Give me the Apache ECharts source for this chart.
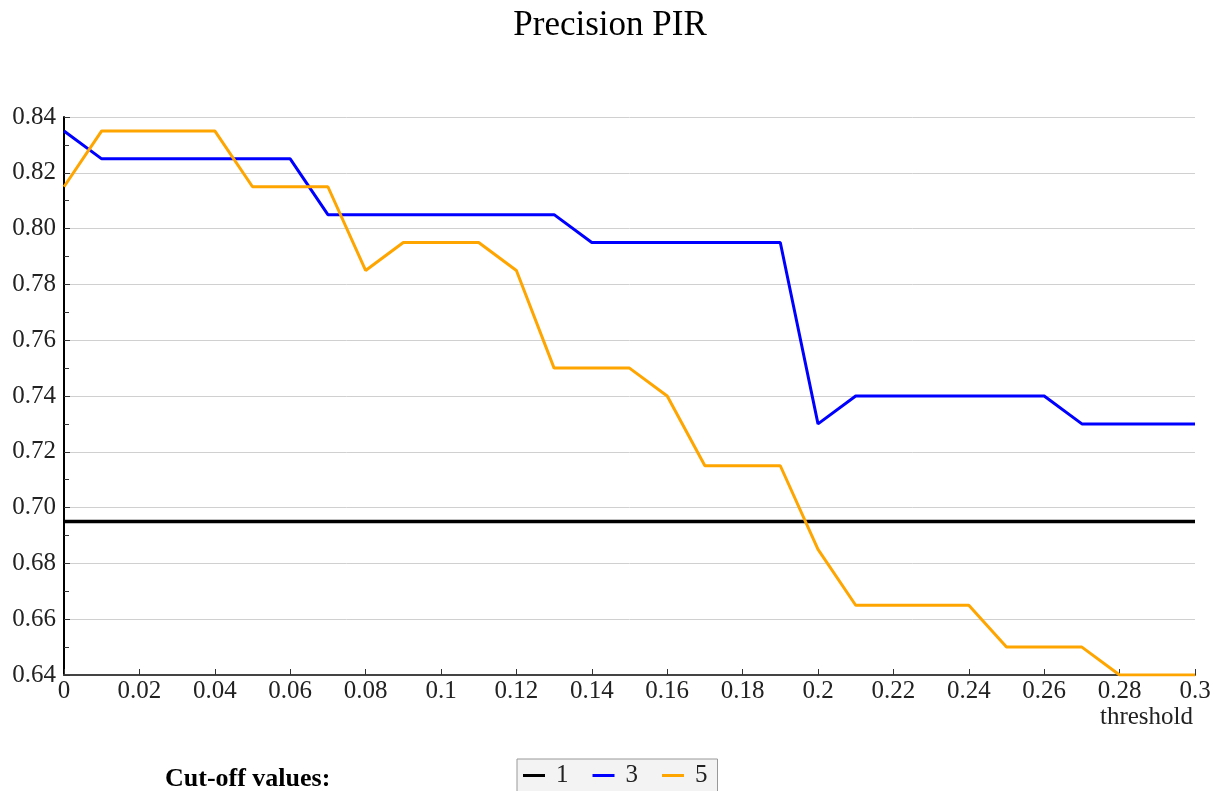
<!DOCTYPE html>
<html lang="en">
<head>
  <meta charset="UTF-8">
  <title>Precision PIR</title>
  <script src="https://cdn.jsdelivr.net/npm/echarts@6/dist/echarts.min.js"></script>
  <style>
    body { margin: 0; background: #fff; }
  </style>
</head>
<body>
  <div id="main" style="width: 1220px; height: 791px;"></div>

  <script>
    // threshold values (x)
    const thresholds = [0, 0.01, 0.02, 0.03, 0.04, 0.05, 0.06, 0.07, 0.08, 0.09, 0.1,
      0.11, 0.12, 0.13, 0.14, 0.15, 0.16, 0.17, 0.18, 0.19, 0.2,
      0.21, 0.22, 0.23, 0.24, 0.25, 0.26, 0.27, 0.28, 0.29, 0.3];

    // precision per cut-off value
    const cut1 = [0.695, 0.695, 0.695, 0.695, 0.695, 0.695, 0.695, 0.695, 0.695, 0.695, 0.695,
      0.695, 0.695, 0.695, 0.695, 0.695, 0.695, 0.695, 0.695, 0.695, 0.695,
      0.695, 0.695, 0.695, 0.695, 0.695, 0.695, 0.695, 0.695, 0.695, 0.695];
    const cut3 = [0.835, 0.825, 0.825, 0.825, 0.825, 0.825, 0.825, 0.805, 0.805, 0.805, 0.805,
      0.805, 0.805, 0.805, 0.795, 0.795, 0.795, 0.795, 0.795, 0.795, 0.73,
      0.74, 0.74, 0.74, 0.74, 0.74, 0.74, 0.73, 0.73, 0.73, 0.73];
    const cut5 = [0.815, 0.835, 0.835, 0.835, 0.835, 0.815, 0.815, 0.815, 0.785, 0.795, 0.795,
      0.795, 0.785, 0.75, 0.75, 0.75, 0.74, 0.715, 0.715, 0.715, 0.685,
      0.665, 0.665, 0.665, 0.665, 0.65, 0.65, 0.65, 0.64, 0.64, 0.64];

    const seriesNames = ['1', '3', '5'];
    const seriesColors = ['#000000', '#0000ff', '#ffa500'];

    const pair = arr => thresholds.map((x, i) => [x, arr[i]]);
    const font = 'Liberation Serif';

    const myChart = echarts.init(document.getElementById('main'));

    const options = {
      animation: false,
      textStyle: { fontFamily: font },
      title: [
        {
          text: 'Precision PIR',
          left: 'center',
          top: 3,
          textStyle: { fontFamily: font, fontSize: 35, fontWeight: 'normal', color: '#000' }
        },
        {
          text: 'Cut-off values:',
          left: 160,
          top: 761,
          textStyle: { fontFamily: font, fontSize: 26, fontWeight: 'bold', color: '#000' }
        }
      ],
      legend: {
        data: seriesNames,
        left: 517,
        top: 759,
        icon: 'rect',
        itemWidth: 22,
        itemHeight: 3,
        itemGap: 24,
        padding: [4, 10, 8, 6],
        backgroundColor: '#f3f3f3',
        borderColor: '#999',
        borderWidth: 1,
        textStyle: { fontFamily: font, fontSize: 25, color: '#222', padding: [0, 0, 0, 6] }
      },
      grid: { left: 64, right: 25, top: 117, bottom: 116 },
      xAxis: {
        type: 'value',
        min: 0,
        max: 0.3,
        interval: 0.02,
        name: 'threshold',
        nameLocation: 'end',
        nameGap: -2,
        nameTextStyle: {
          fontFamily: font, fontSize: 25, color: '#222',
          align: 'right', verticalAlign: 'top', padding: [30, 0, 0, 0]
        },
        axisLine: { lineStyle: { color: '#444', width: 2 } },
        axisTick: { inside: true, length: 6, lineStyle: { color: '#333' } },
        axisLabel: { fontFamily: font, fontSize: 25, color: '#222', margin: 4 },
        splitLine: { show: false }
      },
      yAxis: {
        type: 'value',
        min: 0.64,
        max: 0.84,
        interval: 0.02,
        axisLine: { show: true, lineStyle: { color: '#000', width: 2 } },
        axisTick: { show: true, inside: true, length: 6, lineStyle: { color: '#333' } },
        minorTick: { show: true, splitNumber: 2, length: 5, lineStyle: { color: '#333' } },
        axisLabel: {
          fontFamily: font, fontSize: 25, color: '#222', margin: 8,
          formatter: v => v.toFixed(2)
        },
        splitLine: { show: true, lineStyle: { color: '#d0d0d0', width: 1 } }
      },
      series: [
        { name: seriesNames[0], type: 'line', data: pair(cut1), symbol: 'none',
          lineStyle: { color: seriesColors[0], width: 3.5 }, itemStyle: { color: seriesColors[0] } },
        { name: seriesNames[1], type: 'line', data: pair(cut3), symbol: 'none',
          lineStyle: { color: seriesColors[1], width: 3 }, itemStyle: { color: seriesColors[1] } },
        { name: seriesNames[2], type: 'line', data: pair(cut5), symbol: 'none',
          lineStyle: { color: seriesColors[2], width: 3 }, itemStyle: { color: seriesColors[2] } }
      ]
    };

    myChart.setOption(options);
  </script>
</body>
</html>
